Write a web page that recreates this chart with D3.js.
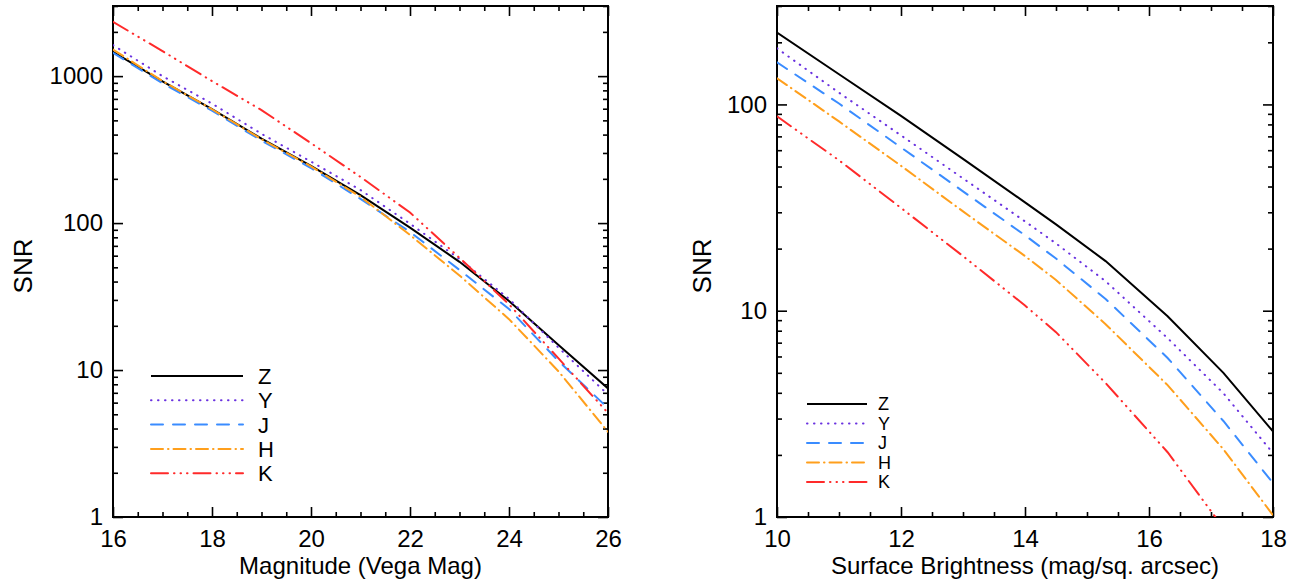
<!DOCTYPE html>
<html>
<head>
<meta charset="utf-8">
<script src="https://cdn.jsdelivr.net/npm/d3@7"></script>
<style>
  body { margin: 0; background: #fff; }
  text { font-family: "Liberation Sans", Arial, Helvetica, sans-serif; fill: #000; }
</style>
</head>
<body>
<svg id="chart" width="1296" height="582"></svg>
<script>
// ---- data ----
const bands = ["Z", "Y", "J", "H", "K"];

// left panel: point sources, SNR vs magnitude
const magGrid = [16, 17, 18, 19, 20, 21, 22, 23, 24, 25, 26];
const magZ = [1465, 920, 597, 375, 245, 155, 93, 54.5, 29.5, 14.8, 7.5];
const magY = [1625, 1000, 650, 405, 262, 168, 99, 57, 30.5, 14.2, 6.8];
const magJ = [1440, 895, 582, 364, 237, 146, 87, 48, 26, 11.5, 5.5];
const magH = [1518, 925, 595, 372, 243, 151, 83, 44, 22.2, 9.8, 3.8];
const magK = [2340, 1480, 925, 587, 350, 206, 118, 58, 28, 12, 5.1];

// right panel: extended sources, SNR vs surface brightness
const sbGrid = [10, 11, 12, 13, 14, 14.5, 15.3, 16.3, 17.2, 18];
const sbZ = [223, 140, 88, 54.5, 33.5, 26.2, 17.4, 9.4, 5.0, 2.6];
const sbY = [187, 114, 70.8, 43.8, 27.1, 21.2, 13.9, 7.36, 3.98, 2.04];
const sbJ = [160, 101, 61.9, 37.9, 23.2, 17.9, 11.4, 5.9, 2.92, 1.46];
const sbH = [134, 82.7, 50.4, 30.3, 18.4, 14.1, 8.6, 4.36, 2.13, 1.02];
const sbK = [87.5, 53.6, 31.5, 18.4, 10.6, 7.87, 4.46, 2.06, 0.885, 0.42];

const magTicks = [16, 18, 20, 22, 24, 26];
const sbTicks = [10, 12, 14, 16, 18];
const snrTicksLeft = [1, 10, 100, 1000];
const snrTicksRight = [1, 10, 100];

// line styles per band
const styles = {
  Z: { color: "#000000", dash: null },
  Y: { color: "#6a32e0", dash: "0.5,6.5" },
  J: { color: "#3a8cff", dash: "12,10" },
  H: { color: "#ff9f1c", dash: "12,5,0.5,5" },
  K: { color: "#ff2a2a", dash: "17,6,0.5,6,0.5,6,0.5,6" }
};

const svg = d3.select("#chart");
const defs = svg.append("defs");

function minorLog(domain) {
  const out = [];
  for (let d = 1; d <= domain[1]; d *= 10) {
    for (let m = 2; m <= 9; m++) {
      if (d * m <= domain[1]) out.push(d * m);
    }
  }
  return out;
}

function drawPanel(p) {
  const x = d3.scaleLinear().domain(p.xDomain).range([p.left, p.right]);
  const y = d3.scaleLog().domain(p.yDomain).range([p.bottom, p.top]);
  const w = p.right - p.left, h = p.bottom - p.top;

  defs.append("clipPath").attr("id", "clip-" + p.id)
    .append("rect").attr("x", p.left).attr("y", p.top).attr("width", w).attr("height", h);

  const xMinor = d3.range(p.xDomain[0], p.xDomain[1] + 0.01, 0.5).filter(v => !p.xTicks.includes(v));
  const yMinor = minorLog(p.yDomain);

  const g = svg.append("g");

  function addAxis(axis, tx, ty) {
    const a = g.append("g").attr("transform", `translate(${tx},${ty})`).call(axis);
    a.select(".domain").remove();
    a.selectAll("line").attr("stroke", "#000").attr("stroke-width", 1.6);
    a.selectAll("text").style("font-size", "24px").attr("fill", "#000")
      .style("font-family", '"Liberation Sans", Arial, sans-serif');
    return a;
  }

  // bottom and top
  addAxis(d3.axisBottom(x).tickValues(p.xTicks).tickFormat(d3.format("d"))
    .tickSizeInner(-10).tickSizeOuter(0).tickPadding(13), 0, p.bottom);
  addAxis(d3.axisBottom(x).tickValues(xMinor).tickFormat("")
    .tickSizeInner(-5).tickSizeOuter(0), 0, p.bottom);
  addAxis(d3.axisTop(x).tickValues(p.xTicks).tickFormat("")
    .tickSizeInner(-10).tickSizeOuter(0), 0, p.top);
  addAxis(d3.axisTop(x).tickValues(xMinor).tickFormat("")
    .tickSizeInner(-5).tickSizeOuter(0), 0, p.top);

  // left and right
  addAxis(d3.axisLeft(y).tickValues(p.yTicks).tickFormat(d3.format("d"))
    .tickSizeInner(-10).tickSizeOuter(0).tickPadding(10), p.left, 0);
  addAxis(d3.axisLeft(y).tickValues(yMinor).tickFormat("")
    .tickSizeInner(-5).tickSizeOuter(0), p.left, 0);
  addAxis(d3.axisRight(y).tickValues(p.yTicks).tickFormat("")
    .tickSizeInner(-10).tickSizeOuter(0), p.right, 0);
  addAxis(d3.axisRight(y).tickValues(yMinor).tickFormat("")
    .tickSizeInner(-5).tickSizeOuter(0), p.right, 0);

  // frame
  g.append("rect").attr("x", p.left).attr("y", p.top).attr("width", w).attr("height", h)
    .attr("fill", "none").attr("stroke", "#000").attr("stroke-width", 2);

  // curves
  const line = d3.line().x(d => x(d[0])).y(d => y(d[1]));
  const lines = g.append("g").attr("clip-path", `url(#clip-${p.id})`);
  bands.forEach(b => {
    const pts = p.xs.map((v, i) => [v, p.data[b][i]]);
    lines.append("path").datum(pts)
      .attr("d", line)
      .attr("fill", "none")
      .attr("stroke", styles[b].color)
      .attr("stroke-width", 2)
      .attr("stroke-linecap", styles[b].dash ? "round" : "butt")
      .attr("stroke-dasharray", styles[b].dash);
  });

  // legend
  const lg = g.append("g");
  bands.forEach((b, i) => {
    const ly = p.legend.y + i * p.legend.step;
    lg.append("line")
      .attr("x1", p.legend.x1).attr("x2", p.legend.x2)
      .attr("y1", ly).attr("y2", ly)
      .attr("stroke", styles[b].color).attr("stroke-width", 2)
      .attr("stroke-linecap", styles[b].dash ? "round" : "butt")
      .attr("stroke-dasharray", styles[b].dash);
    lg.append("text")
      .attr("x", p.legend.tx).attr("y", ly).attr("dy", "0.36em")
      .style("font-size", p.legend.font + "px")
      .text(b);
  });

  // axis titles
  g.append("text")
    .attr("x", (p.left + p.right) / 2).attr("y", 574)
    .attr("text-anchor", "middle").style("font-size", "24px")
    .text(p.xTitle);
  g.append("text")
    .attr("transform", `translate(${p.yTitleX},266) rotate(-90)`)
    .attr("text-anchor", "middle").style("font-size", "26px")
    .text("SNR");
}

drawPanel({
  id: "mag", left: 113, right: 608, top: 6, bottom: 517,
  xDomain: [16, 26], yDomain: [1, 3000],
  xTicks: magTicks, yTicks: snrTicksLeft,
  xs: magGrid, data: { Z: magZ, Y: magY, J: magJ, H: magH, K: magK },
  legend: { x1: 151, x2: 243, tx: 258, y: 376, step: 24.3, font: 22 },
  xTitle: "Magnitude (Vega Mag)", yTitleX: 32
});

drawPanel({
  id: "sb", left: 777, right: 1273, top: 6, bottom: 517,
  xDomain: [10, 18], yDomain: [1, 300],
  xTicks: sbTicks, yTicks: snrTicksRight,
  xs: sbGrid, data: { Z: sbZ, Y: sbY, J: sbJ, H: sbH, K: sbK },
  legend: { x1: 807, x2: 867, tx: 878, y: 404, step: 19.5, font: 18 },
  xTitle: "Surface Brightness (mag/sq. arcsec)", yTitleX: 711
});
</script>
</body>
</html>
